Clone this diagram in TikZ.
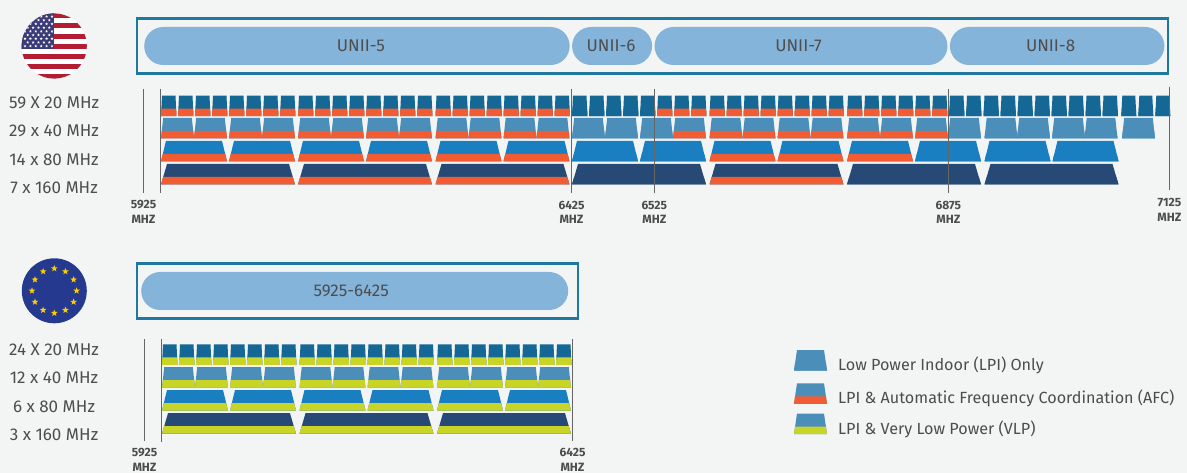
\documentclass[tikz,border=0pt]{standalone}
\usepackage{fontspec}
\setmainfont{Fira Sans}
\usepackage{xcolor}
\usetikzlibrary{positioning, shapes.geometric}

\definecolor{pagebg}{HTML}{F3F5F5}
\definecolor{boxline}{HTML}{1F789F}
\definecolor{pillblue}{HTML}{85B4DA}
\definecolor{txtgrey}{HTML}{4D4D4D}
\definecolor{tickgrey}{HTML}{666666}
\definecolor{chanTwenty}{HTML}{156895}
\definecolor{chanForty}{HTML}{4B8EBA}
\definecolor{chanEighty}{HTML}{1A7FC1}
\definecolor{chanWide}{HTML}{264A75}
\definecolor{bandAFC}{HTML}{F15C32}
\definecolor{bandVLP}{HTML}{C8D426}
\definecolor{flagred}{HTML}{B31D33}
\definecolor{flagnavy}{HTML}{3B3B78}
\definecolor{eunavy}{HTML}{253A8E}
\definecolor{eustar}{HTML}{FFCC00}

% x, top, width, inset, colour, band colour
\newcommand{\chanblock}[6]{%
  \pgfmathsetmacro{\xa}{#1}%
  \pgfmathsetmacro{\xb}{\xa+#3}%
  \fill[#5] ({\xa+#4},#2) -- ({\xb-#4},#2) -- (\xb,#2+20.5) -- (\xa,#2+20.5) -- cycle;
  \fill[#6] ({\xa+#4*0.36},#2+13) -- ({\xb-#4*0.36},#2+13) -- (\xb,#2+20.5) -- (\xa,#2+20.5) -- cycle;
}
% name, x, top, bottom, value
\newcommand{\freqtick}[5]{%
  \coordinate (#1Top) at (#2,#3);
  \coordinate (#1Bot) at (#2,#4);
  \draw [tickline] (#1Top) -- (#1Bot);
  \node (#1Freq) [freqlabel, below=5pt of #1Bot] {#5};
  \node (#1Unit) [freqlabel, below=0pt of #1Freq] {MHZ};
}

\begin{document}
\begin{tikzpicture}[x=1pt, y=-1pt]
    % Styles
    \tikzstyle{bandbox} = [rectangle, draw=boxline, line width=2.5pt, inner sep=0pt]
    \tikzstyle{pill} = [rectangle, fill=pillblue, rounded corners=19pt, minimum height=38pt, inner sep=0pt, text=txtgrey, font=\fontsize{17}{17}\selectfont]
    \tikzstyle{rowlabel} = [minimum height=28pt, minimum width=100pt, inner sep=0pt, text=txtgrey, font=\fontsize{17}{17}\selectfont]
    \tikzstyle{freqlabel} = [minimum height=14.2pt, inner sep=0pt, text=txtgrey, font=\fontsize{12}{12}\selectfont\bfseries]
    \tikzstyle{legendtext} = [anchor=west, inner sep=0pt, text=txtgrey, font=\fontsize{16.15}{16.15}\selectfont]
    \tikzstyle{tickline} = [tickgrey, line width=1.1pt]
    \tikzstyle{flagstar} = [star, star points=5, star point ratio=2.4, fill=white, inner sep=0pt, minimum size=3pt]
    \tikzstyle{euflagstar} = [star, star points=5, star point ratio=2.4, fill=eustar, inner sep=0pt, minimum size=7pt]

    % Page
    \fill [pagebg] (0,0) rectangle (1187,473);
    \useasboundingbox (0,0) rectangle (1187,473);

    % US Flag
    \begin{scope}
        \clip (54.2,46) circle (32.6);
        \fill [white] (54.2,46) circle (32.6);
        \foreach \s in {0,2,...,12} {
            \fill [flagred] (20,{13.4+5.03*\s}) rectangle (90,{13.4+5.03*(\s+1)});
        }
        \fill [flagnavy] (20,13) rectangle (54,48.7);
        \foreach \r in {0,2,...,8} \foreach \c in {0,...,5} {
            \node (USStar\r\c) [flagstar] at ({25+5.4*\c},{16.5+3.7*\r}) {};
        }
        \foreach \r in {1,3,...,7} \foreach \c in {0,...,4} {
            \node (USStar\r\c) [flagstar] at ({27.7+5.4*\c},{16.5+3.7*\r}) {};
        }
    \end{scope}

    % US Bands
    \node (USBox) [bandbox, minimum width=1031pt, minimum height=55.4pt] at (652.5,46) {};
    \node (UNIIFive) [pill, minimum width=425.5pt, anchor=west] at (144,46) {\hspace*{8pt}UNII-5};
    \node (UNIISix) [pill, minimum width=80pt, right=2pt of UNIIFive] {\hspace*{-2pt}UNII-6};
    \node (UNIISeven) [pill, minimum width=293pt, right=2pt of UNIISix] {\hspace*{-5pt}UNII-7};
    \node (UNIIEight) [pill, minimum width=214.5pt, right=2pt of UNIISeven] {\hspace*{-13pt}UNII-8};

    % US Row Labels
    \node (USRowA) [rowlabel] at (54,102.8) {59 X 20 MHz};
    \node (USRowB) [rowlabel, below=0pt of USRowA] {29 x 40 MHz};
    \node (USRowC) [rowlabel, below=0pt of USRowB] {14 x 80 MHz};
    \node (USRowD) [rowlabel, below=0pt of USRowC] {7 x 160 MHz};

    % US 20 MHz Channels
    \foreach \b in {161,298,435.5,709.5} \foreach \k in {0,...,7} {
        \chanblock{\b+17*\k}{95.7}{15.5}{1}{chanTwenty}{bandAFC}
    }
    \foreach \k in {0,...,4} {\chanblock{572+17*\k}{95.7}{15.5}{1}{chanTwenty}{chanTwenty}}
    \foreach \k in {5,6,7} {\chanblock{572+17*\k}{95.7}{15.5}{1}{chanTwenty}{bandAFC}}
    \foreach \k in {0,...,5} {\chanblock{847+17*\k}{95.7}{15.5}{1}{chanTwenty}{bandAFC}}
    \foreach \k in {6,7} {\chanblock{847+17*\k}{95.7}{15.5}{1}{chanTwenty}{chanTwenty}}
    \foreach \k in {0,...,7} {\chanblock{983.5+17*\k}{95.7}{15.5}{1}{chanTwenty}{chanTwenty}}
    \foreach \k in {0,1,2} {\chanblock{1121.3+17*\k}{95.7}{15}{1}{chanTwenty}{chanTwenty}}

    % US 40 MHz Channels
    \foreach \b in {161,298,435.5,709.5} \foreach \k in {0,33,68,101} {
        \chanblock{\b+\k}{117.8}{33}{2.2}{chanForty}{bandAFC}
    }
    \foreach \x in {572,605,640,948,984.5,1017,1052,1084.5,1122} {\chanblock{\x}{117.8}{33}{2.2}{chanForty}{chanForty}}
    \foreach \x in {673,847,880,915} {\chanblock{\x}{117.8}{33}{2.2}{chanForty}{bandAFC}}

    % US 80 MHz Channels
    \foreach \b in {161,298,435.5,709.5} \foreach \k in {0,68} {
        \chanblock{\b+\k}{140.8}{66}{5}{chanEighty}{bandAFC}
    }
    \chanblock{847}{140.8}{66}{5}{chanEighty}{bandAFC}
    \foreach \x in {572,640,915,984.5,1052.5} {\chanblock{\x}{140.8}{66}{5}{chanEighty}{chanEighty}}

    % US 160 MHz Channels
    \foreach \x in {161,298,435.5,709.5} {\chanblock{\x}{164}{134}{6}{chanWide}{bandAFC}}
    \foreach \x in {572,847,984.5} {\chanblock{\x}{164}{134}{6}{chanWide}{chanWide}}

    % US Ticks
    \draw [tickline] (160.5,89) -- (160.5,192.7);
    \freqtick{USLow}{143.5}{89}{192.7}{5925}
    \freqtick{USSix}{571.5}{89}{192.7}{6425}
    \freqtick{USFive}{654.3}{89}{192.7}{6525}
    \freqtick{USEight}{948.4}{89}{192.7}{6875}
    \freqtick{USHigh}{1169.4}{87}{190}{7125}

    % EU Flag
    \fill [eunavy] (54.3,290.8) circle (32.5);
    \foreach \a in {0,30,...,330} {
        \node (EUStar\a) [euflagstar] at ({54.3+22.3*cos(\a)},{290.8+22.3*sin(\a)}) {};
    }

    % EU Band
    \node (EUBox) [bandbox, minimum width=441pt, minimum height=55.4pt] at (357.5,291) {};
    \node (EUPill) [pill, minimum width=427pt, anchor=west] at (141,291) {\hspace*{-7pt}5925-6425};

    % EU Row Labels
    \node (EURowA) [rowlabel] at (54,349.8) {24 X 20 MHz};
    \node (EURowB) [rowlabel, below=0pt of EURowA] {12 x 40 MHz};
    \node (EURowC) [rowlabel, below=0pt of EURowB] {6 x 80 MHz};
    \node (EURowD) [rowlabel, below=0pt of EURowC] {3 x 160 MHz};

    % EU Channels
    \foreach \b in {162,299.5,437} {
        \foreach \k in {0,...,7} {\chanblock{\b+17*\k}{344.4}{15.5}{1}{chanTwenty}{bandVLP}}
        \foreach \k in {0,33,68,101} {\chanblock{\b+\k}{367.2}{33}{2.2}{chanForty}{bandVLP}}
        \foreach \k in {0,68} {\chanblock{\b+\k}{390}{66}{5}{chanEighty}{bandVLP}}
        \chanblock{\b}{413.2}{134}{6}{chanWide}{bandVLP}
    }

    % EU Ticks
    \draw [tickline] (161.3,339) -- (161.3,441.7);
    \freqtick{EULow}{144.5}{339}{440.5}{5925}
    \freqtick{EUHigh}{572.5}{339}{440.5}{6425}

    % Legend
    \chanblock{794}{350}{33}{3}{chanForty}{chanForty}
    \chanblock{794}{383.3}{33}{3}{chanForty}{bandAFC}
    \chanblock{794}{413.6}{33}{3}{chanForty}{bandVLP}
    \node (LegendLPI) [legendtext] at (838,365.3) {Low Power Indoor (LPI) Only};
    \node (LegendAFC) [legendtext] at (838,398.3) {LPI \& Automatic Frequency Coordination (AFC)};
    \node (LegendVLP) [legendtext] at (838,429.5) {LPI \& Very Low Power (VLP)};

\end{tikzpicture}
\end{document}
